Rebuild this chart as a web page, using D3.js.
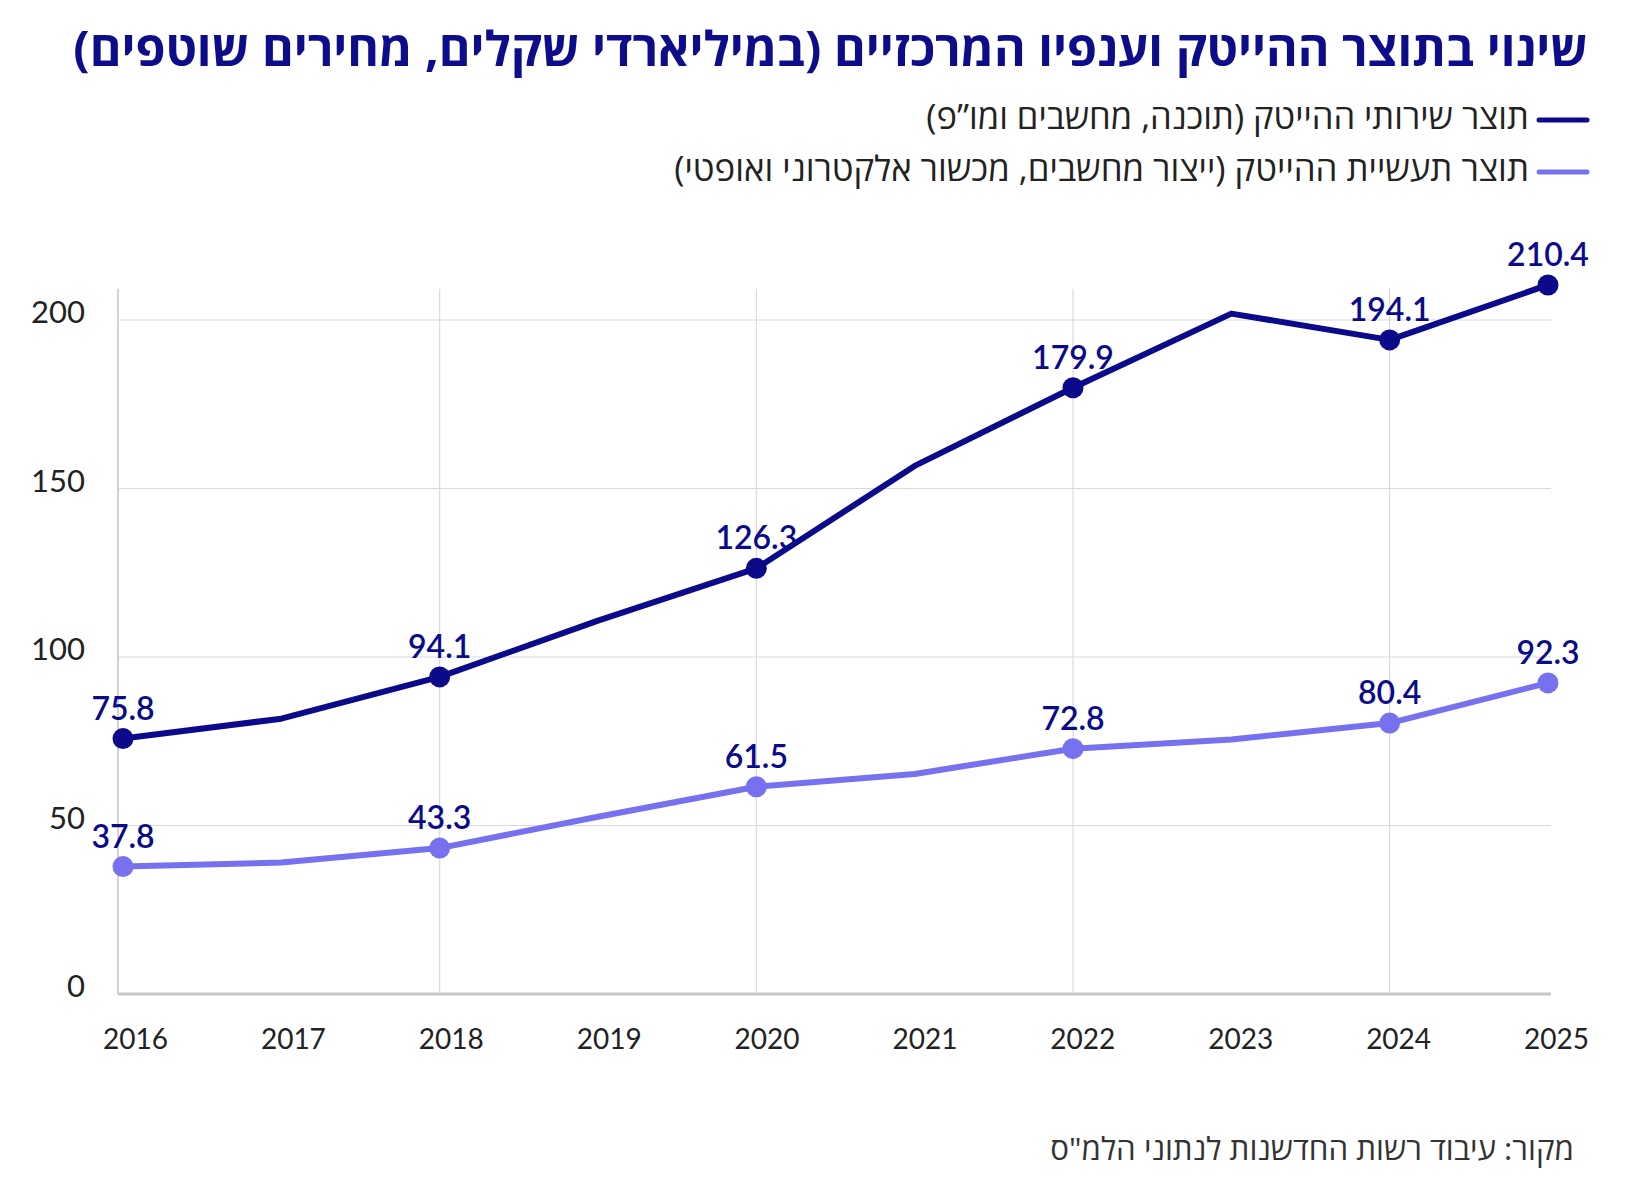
<!DOCTYPE html>
<html lang="he">
<head>
<meta charset="utf-8">
<script src="https://cdn.jsdelivr.net/npm/d3@7"></script>
<style>
  body { margin: 0; background: #fff; }
  svg { display: block; }
</style>
</head>
<body>
<div id="chart"></div>
<script>
const years = [2016, 2017, 2018, 2019, 2020, 2021, 2022, 2023, 2024, 2025];
const services = [75.8, 81.7, 94.1, 110.8, 126.3, 156.7, 179.9, 201.9, 194.1, 210.4];
const industry = [37.8, 39.0, 43.3, 52.6, 61.5, 65.3, 72.8, 75.5, 80.4, 92.3];
const labeledYears = [2016, 2018, 2020, 2022, 2024, 2025];
const gridYears = [2018, 2020, 2022, 2024];
const yTicks = [0, 50, 100, 150, 200];

const title = "שינוי בתוצר ההייטק וענפיו המרכזיים (במיליארדי שקלים, מחירים שוטפים)";
const seriesNames = [
  "תוצר שירותי ההייטק (תוכנה, מחשבים ומו\u201dפ)",
  "תוצר תעשיית ההייטק (ייצור מחשבים, מכשור אלקטרוני ואופטי)"
];
const source = "מקור: עיבוד רשות החדשנות לנתוני הלמ\"ס";

const navy = "#0a0a8a";
const lilac = "#7671ef";
const hebFont = "'Open Sans', 'Liberation Sans', 'DejaVu Sans', sans-serif";
const numFont = "Lato, 'Noto Sans', sans-serif";

const width = 1635, height = 1200;
const svg = d3.select("#chart").append("svg")
  .attr("width", width)
  .attr("height", height);

// fit a text element to a given width by adjusting font size
const fitWidth = (sel, target) => {
  const len = sel.node().getComputedTextLength();
  const fs = parseFloat(sel.attr("font-size"));
  sel.attr("font-size", fs * target / len);
};

// title
const t = svg.append("text")
  .attr("x", 1588).attr("y", 66)
  .attr("direction", "rtl")
  .attr("text-anchor", "start")
  .attr("font-family", hebFont)
  .attr("font-weight", 700)
  .attr("font-size", 40)
  .attr("fill", "#0d0d8c")
  .text(title);
fitWidth(t, 1515);

// legend
const legendY = [120, 172];
const legendW = [603, 855];
[navy, lilac].forEach((c, i) => {
  svg.append("line")
    .attr("x1", 1539).attr("x2", 1587)
    .attr("y1", legendY[i]).attr("y2", legendY[i])
    .attr("stroke", c).attr("stroke-width", 5)
    .attr("stroke-linecap", "round");
  const lt = svg.append("text")
    .attr("x", 1529).attr("y", legendY[i] + 9)
    .attr("direction", "rtl")
    .attr("text-anchor", "start")
    .attr("font-family", hebFont)
    .attr("font-size", 26)
    .attr("fill", "#222")
    .text(seriesNames[i]);
  fitWidth(lt, legendW[i]);
});

// scales
const x = d3.scalePoint().domain(years).range([123, 1548]);
const xLab = d3.scalePoint().domain(years).range([135, 1556]);
const y = d3.scaleLinear().domain([0, 200]).range([994, 320]);
const left = 118, right = 1551, gridTop = y(209.3);

const g = svg.append("g");

// horizontal grid
g.selectAll(".hgrid")
  .data(yTicks.filter(d => d > 0))
  .enter().append("line")
  .attr("class", "hgrid")
  .attr("x1", left).attr("x2", right)
  .attr("y1", d => y(d)).attr("y2", d => y(d))
  .attr("stroke", "#d7dade").attr("stroke-width", 1.2);

// vertical grid
g.selectAll(".vgrid")
  .data(gridYears)
  .enter().append("line")
  .attr("class", "vgrid")
  .attr("x1", d => x(d)).attr("x2", d => x(d))
  .attr("y1", gridTop).attr("y2", y(0))
  .attr("stroke", "#d7dade").attr("stroke-width", 1.2);

// left axis line
g.append("line")
  .attr("x1", left).attr("x2", left)
  .attr("y1", gridTop).attr("y2", y(0))
  .attr("stroke", "#cfd2d6").attr("stroke-width", 2);

// bottom axis line
g.append("line")
  .attr("x1", left).attr("x2", right)
  .attr("y1", y(0)).attr("y2", y(0))
  .attr("stroke", "#c4c7cb").attr("stroke-width", 3);

// y axis labels
const yAxis = d3.axisLeft(y).tickValues(yTicks).tickSize(0).tickPadding(0);
const gY = svg.append("g")
  .attr("transform", "translate(85,-7)")
  .call(yAxis);
gY.select(".domain").remove();
gY.selectAll("text")
  .attr("font-family", numFont)
  .attr("font-size", 31)
  .attr("fill", "#222");

// x axis labels
const xAxis = d3.axisBottom(xLab).tickSize(0).tickPadding(0);
const gX = svg.append("g")
  .attr("transform", "translate(0,1039)")
  .call(xAxis);
gX.select(".domain").remove();
gX.selectAll("text")
  .attr("dy", "0.35em")
  .attr("font-family", numFont)
  .attr("font-size", 28)
  .attr("fill", "#222");

// lines
const line = d3.line().x(d => x(d.year)).y(d => y(d.value));
const series = [
  { color: navy, data: years.map((yr, i) => ({ year: yr, value: services[i] })) },
  { color: lilac, data: years.map((yr, i) => ({ year: yr, value: industry[i] })) }
];

series.forEach(s => {
  svg.append("path")
    .datum(s.data)
    .attr("fill", "none")
    .attr("stroke", s.color)
    .attr("stroke-width", 6)
    .attr("stroke-linejoin", "round")
    .attr("d", line);

  const pts = s.data.filter(d => labeledYears.includes(d.year));
  svg.selectAll(null)
    .data(pts)
    .enter().append("circle")
    .attr("cx", d => x(d.year))
    .attr("cy", d => y(d.value))
    .attr("r", 10.5)
    .attr("fill", s.color);

  svg.selectAll(null)
    .data(pts)
    .enter().append("text")
    .attr("x", d => x(d.year))
    .attr("y", d => y(d.value) - 19)
    .attr("text-anchor", "middle")
    .attr("font-family", numFont)
    .attr("font-weight", 600)
    .attr("font-size", 32)
    .attr("fill", navy)
    .text(d => d.value.toFixed(1));
});

// source
const st = svg.append("text")
  .attr("x", 1574).attr("y", 1160)
  .attr("direction", "rtl")
  .attr("text-anchor", "start")
  .attr("font-family", hebFont)
  .attr("font-size", 26)
  .attr("fill", "#333")
  .text(source);
fitWidth(st, 524);
</script>
</body>
</html>
